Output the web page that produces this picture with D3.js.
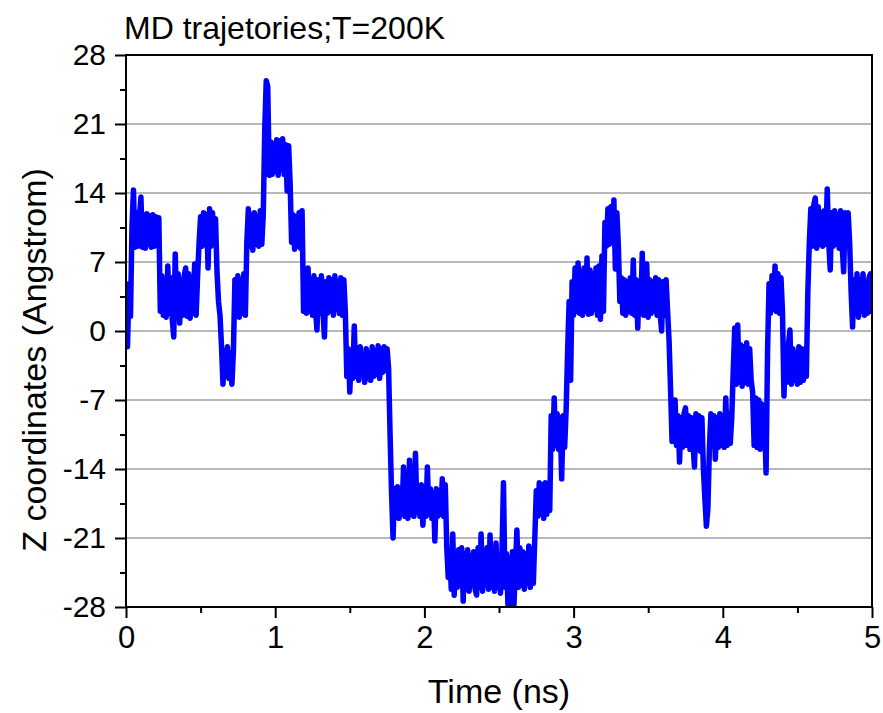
<!DOCTYPE html>
<html><head><meta charset="utf-8">
<script src="https://cdn.jsdelivr.net/npm/d3@7"></script>
<style>body{margin:0;background:#fff} svg{display:block} text{font-family:"Liberation Sans",Arial,sans-serif;fill:#000}</style>
</head><body><svg id="c" width="883" height="713"></svg>
<script>
const title = "MD trajetories;T=200K";
const xLabel = "Time (ns)";
const yLabel = "Z coordinates (Angstrom)";
const xTicks = [0, 1, 2, 3, 4, 5];
const xMinorTicks = [0.5, 1.5, 2.5, 3.5, 4.5];
const yTicks = [-28, -21, -14, -7, 0, 7, 14, 21, 28];
const yMinorTicks = [-24.5, -17.5, -10.5, -3.5, 3.5, 10.5, 17.5, 24.5];
const timeStep = 0.01; // ns between samples, one row = 0.1 ns
const zValues = [
  4.5, -1.6, 4.8, 1.5, 10.5, 14.3, 8.5, 12.0, 8.6, 11.5,
  13.6, 8.5, 11.8, 8.4, 11.9, 8.8, 11.7, 8.5, 11.8, 8.6,
  11.6, 8.8, 11.5, 2.0, 5.6, 1.6, 5.0, 1.4, 6.6, 1.8,
  5.4, 1.2, -0.6, 7.8, 1.4, 5.8, 0.8, 5.2, 1.6, 5.6,
  6.4, 1.5, 5.8, 1.3, 5.4, 1.8, 6.8, 1.6, 5.6, 9.0,
  11.6, 8.6, 12.0, 8.8, 11.8, 6.4, 12.4, 8.6, 12.0, 8.8,
  11.4, 6.0, 3.0, 1.6, -1.5, -5.4, -2.0, -4.6, -1.6, -4.8,
  -2.2, -5.4, -2.0, 5.2, 1.6, 5.6, 1.4, 5.2, 1.8, 5.8,
  1.6, 9.0, 12.4, 8.6, 11.8, 8.2, 12.0, 8.8, 11.6, 8.6,
  12.2, 8.8, 11.8, 20.5, 25.4, 24.8, 15.8, 19.2, 15.9, 19.0,
  16.2, 19.4, 15.8, 19.3, 16.4, 19.5, 15.9, 18.9, 14.2, 18.8,
  15.0, 9.0, 11.8, 8.3, 11.6, 8.6, 12.0, 8.4, 12.2, 2.0,
  5.4, 1.8, 6.4, 2.0, 5.2, 1.6, 5.6, 2.2, 0.1, 5.2,
  1.8, 5.6, 2.0, -0.6, 5.0, 1.8, 5.4, 2.0, 5.2, 1.6,
  5.6, 2.2, 5.0, 1.8, 5.4, 1.6, 5.2, 2.0, -4.6, -1.8,
  -6.2, -2.2, -4.8, 0.5, -4.6, -2.0, -5.0, -1.6, -4.4, -2.4,
  -5.2, -1.8, -4.8, -2.2, -5.0, -1.6, -4.6, -2.0, -4.4, -1.5,
  -4.8, -1.8, -4.2, -1.6, -4.0, -1.8, -3.8, -10.5, -16.5, -21.0,
  -16.0, -18.8, -15.8, -19.0, -16.2, -18.6, -13.8, -18.8, -15.6, -19.0,
  -13.1, -18.6, -15.8, -18.8, -12.4, -18.4, -16.0, -18.8, -15.6, -19.7,
  -16.2, -18.8, -13.8, -18.6, -16.0, -19.0, -16.4, -21.3, -16.0, -18.8,
  -16.2, -18.6, -15.0, -18.8, -15.6, -22.0, -25.0, -22.4, -26.2, -20.6,
  -26.8, -22.6, -26.0, -22.2, -25.8, -22.0, -27.4, -22.6, -26.2, -22.2,
  -26.4, -22.8, -25.8, -22.4, -26.2, -26.8, -22.0, -26.0, -20.6, -26.4,
  -22.4, -25.8, -22.0, -26.2, -20.7, -26.0, -22.6, -26.4, -21.5, -26.0,
  -22.8, -26.6, -22.4, -15.4, -26.0, -22.6, -27.8, -23.0, -27.8, -22.4,
  -27.8, -24.0, -20.2, -26.0, -22.0, -25.8, -22.4, -26.2, -22.6, -25.6,
  -21.8, -26.0, -22.2, -25.6, -21.0, -16.2, -18.8, -15.4, -18.6, -15.6,
  -19.0, -15.4, -18.6, -15.8, -18.2, -8.6, -12.0, -6.8, -11.6, -8.4,
  -12.0, -8.8, -15.0, -8.6, -11.8, -8.0, -2.0, 3.0, -5.0, 5.0,
  1.6, 6.4, 2.0, 6.9, 1.8, 6.0, 1.6, 6.4, 2.0, 7.4,
  1.7, 6.2, 1.8, 5.8, 2.2, 6.4, 1.6, 6.6, 1.2, 7.6,
  2.0, 11.0, 8.6, 12.4, 8.8, 12.6, 9.0, 13.3, 6.3, 12.0,
  8.6, 3.0, 5.4, 1.8, 5.2, 1.6, 5.0, 2.0, 5.4, 1.8,
  7.2, 1.6, 5.2, 0.3, 5.0, 1.8, 7.9, 1.6, 5.4, 6.8,
  1.4, 5.2, 1.8, 5.0, 2.0, 5.4, 1.6, 5.2, 1.8, 0.0,
  5.0, 1.6, 5.2, 2.0, -1.0, -6.0, -11.2, -8.4, -7.0, -11.6,
  -8.6, -13.3, -8.8, -11.8, -8.4, -7.8, -11.6, -8.6, -12.0, -8.8,
  -11.4, -13.8, -8.4, -11.8, -8.6, -12.2, -8.8, -14.0, -17.0, -19.8,
  -18.0, -12.0, -8.4, -11.6, -8.6, -13.0, -8.8, -11.8, -8.4, -11.6,
  -8.6, -11.8, -6.8, -11.6, -8.4, -11.4, -8.8, -4.0, 0.3, -5.4,
  0.6, -5.2, -1.4, -5.6, -1.6, -5.2, -1.2, -5.4, -1.8, -5.0,
  -6.2, -11.6, -6.8, -11.8, -7.0, -12.0, -7.4, -11.8, -9.0, -14.4,
  -2.0, 4.8, 1.8, 5.6, 2.2, 6.6, 2.0, 5.8, 1.8, 5.4,
  2.0, -6.6, -1.6, -5.2, -1.4, 0.1, -5.4, -1.8, -5.0, -2.2,
  -5.4, -1.6, -5.2, -1.8, -5.0, -2.0, -4.6, 4.0, 9.0, 12.4,
  8.6, 12.8, 13.5, 8.4, 12.6, 8.8, 12.0, 8.6, 12.2, 8.8,
  14.4, 9.0, 6.2, 12.0, 8.6, 12.2, 8.8, 11.8, 8.4, 12.2,
  8.6, 6.0, 12.0, 8.8, 12.0, 9.0, 4.0, 0.4, 5.2, 1.8,
  5.8, 1.4, 5.2, 2.0, 5.8, 1.6, 5.0, 1.8, 5.4, 5.8,
  2.0
];

const data = zValues.map((z, i) => ({t: i * timeStep, z}));
const svg = d3.select("#c");
const L = 126, R = 872, T = 55, B = 607;
const x = d3.scaleLinear().domain([0, 5]).range([L, R]);
const y = d3.scaleLinear().domain([-28, 28]).range([B, T]);

// gridlines
svg.append("g").selectAll("line").data(yTicks.filter(v => v > -28 && v < 28)).join("line")
  .attr("x1", L).attr("x2", R).attr("y1", d => y(d)).attr("y2", d => y(d))
  .attr("stroke", "#a0a0a0").attr("stroke-width", 1.5);

svg.append("clipPath").attr("id", "clip").append("rect")
  .attr("x", L).attr("y", T).attr("width", R - L).attr("height", B - T);

svg.append("path").datum(data)
  .attr("clip-path", "url(#clip)")
  .attr("fill", "none").attr("stroke", "#0000ff").attr("stroke-width", 5.5)
  .attr("stroke-linejoin", "round").attr("stroke-linecap", "round")
  .attr("d", d3.line().x(d => x(d.t)).y(d => y(d.z)));

// axes
const fmt = d => String(d);
const xAxis = d3.axisBottom(x).tickValues(xTicks).tickSize(11).tickPadding(8).tickFormat(fmt);
const gx = svg.append("g").attr("transform", `translate(0,${B})`).call(xAxis);
const gxm = svg.append("g").attr("transform", `translate(0,${B})`)
  .call(d3.axisBottom(x).tickValues(xMinorTicks).tickSize(6).tickFormat(""));
const yAxis = d3.axisLeft(y).tickValues(yTicks).tickSize(11).tickPadding(9).tickFormat(fmt);
const gy = svg.append("g").attr("transform", `translate(${L},0)`).call(yAxis);
const gym = svg.append("g").attr("transform", `translate(${L},0)`)
  .call(d3.axisLeft(y).tickValues(yMinorTicks).tickSize(6).tickFormat(""));
[gx, gxm, gy, gym].forEach(g => {
  g.select(".domain").remove();
  g.selectAll(".tick line").attr("stroke", "#000").attr("stroke-width", 2);
});
gx.selectAll(".tick text").attr("font-size", 31).attr("font-family", "Liberation Sans, Arial, sans-serif").attr("fill", "#000");
gy.selectAll(".tick text").attr("font-size", 30).attr("font-family", "Liberation Sans, Arial, sans-serif").attr("fill", "#000");

// frame
svg.append("rect").attr("x", L).attr("y", T).attr("width", R - L).attr("height", B - T)
  .attr("fill", "none").attr("stroke", "#000").attr("stroke-width", 2);

svg.append("text").attr("x", 124).attr("y", 39).attr("font-size", 32).text(title);
svg.append("text").attr("x", (L + R) / 2).attr("y", 703).attr("text-anchor", "middle").attr("font-size", 34).text(xLabel);
svg.append("text").attr("transform", `translate(46,360) rotate(-90)`).attr("text-anchor", "middle").attr("font-size", 34).text(yLabel);
</script></body></html>
